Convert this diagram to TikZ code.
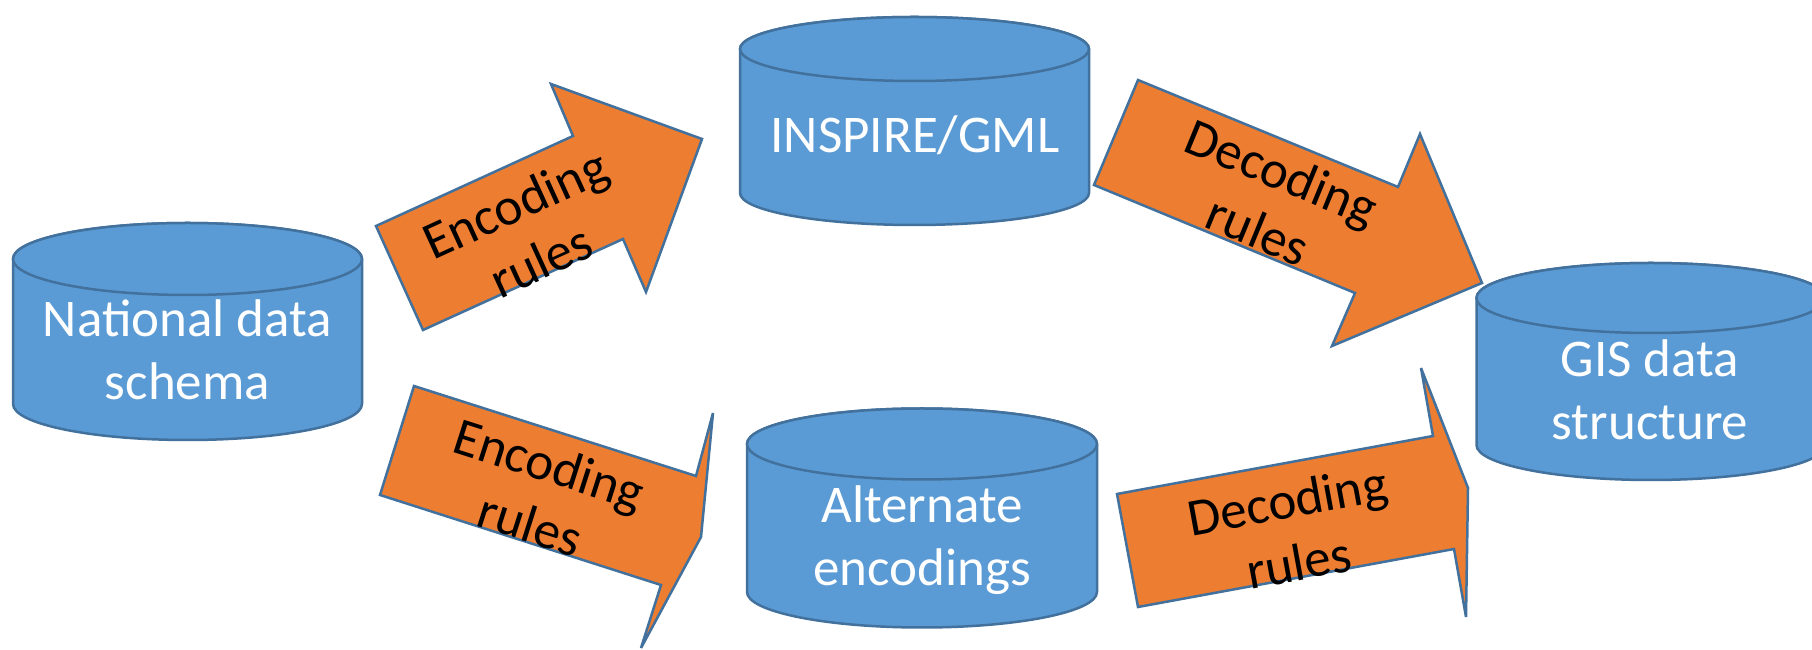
\documentclass[tikz,border=0pt]{standalone}
\usepackage{fontspec}
\setmainfont{Carlito}
\definecolor{cylblue}{HTML}{5B9BD5}
\definecolor{edgeblue}{HTML}{41719C}
\definecolor{arroworange}{HTML}{ED7D31}
\newcommand{\dbcyl}[5]{%
  \path[cyl] (#1-#4,#2) -- (#1-#4,#3) arc[start angle=180,end angle=360,x radius=#4,y radius=#5] -- (#1+#4,#2) arc[start angle=0,end angle=180,x radius=#4,y radius=#5] -- cycle;
  \path[cyl] (#1,#2) ellipse[x radius=#4,y radius=#5];
}
\begin{document}
\begin{tikzpicture}[x=1pt,y=1pt,
  cyl/.style={fill=cylblue, draw=edgeblue, line width=2.5pt},
  blockarrow/.style={fill=arroworange, draw=edgeblue, line width=2.5pt, line join=miter},
  cyltext/.style={text=white, font=\fontsize{53}{63}\selectfont, align=center, inner sep=0pt},
  arrowtext/.style={text=black, font=\fontsize{53}{63}\selectfont, align=center, inner sep=0pt}]
\useasboundingbox (0,0) rectangle (1812,650);
\clip (0,0) rectangle (1812,650);
\fill[white] (0,0) rectangle (1812,650);

% cylinders
\dbcyl{187.5}{391}{246}{174.5}{36}
\dbcyl{914.5}{601}{457}{174.5}{32}
\dbcyl{922}{206}{58}{175}{35.5}
\dbcyl{1651}{352}{205}{174.5}{35}

% block arrows
\path[blockarrow] (423,320) -- (376,424) -- (573,514) -- (551,566) -- (702,511) -- (646,358) -- (623,411) -- cycle;
\path[blockarrow] (1138,570) -- (1398,463) -- (1420,516) -- (1482,367) -- (1332,304) -- (1355,357) -- (1094,465) -- cycle;
\path[blockarrow] (414,264) -- (696,174) -- (713,237) -- (701,113) -- (641,2) -- (661,65) -- (380,155) -- cycle;
\path[blockarrow] (1117,156) -- (1433,214) -- (1421,282) -- (1468,162) -- (1466,33) -- (1454,101) -- (1138,43) -- cycle;

% texts
\node[cyltext] (national) at (187.5,300) {National data\\schema};
\node[cyltext, anchor=base] (inspire) at (915,497) {INSPIRE/GML};
\node[cyltext] (alternate) at (922,109.5) {Alternate\\encodings};
\node[cyltext] (gis) at (1650,260) {GIS data\\structure};
\node[arrowtext, rotate=24.6] (enc1) at (528,418) {Encoding\\rules};
\node[arrowtext, rotate=-22.4] (dec1) at (1270,449) {Decoding\\rules};
\node[arrowtext, rotate=-17.7] (enc2) at (540,156) {Encoding\\rules};
\node[arrowtext, rotate=10.4] (dec2) at (1293,119) {Decoding\\rules};
\end{tikzpicture}
\end{document}
